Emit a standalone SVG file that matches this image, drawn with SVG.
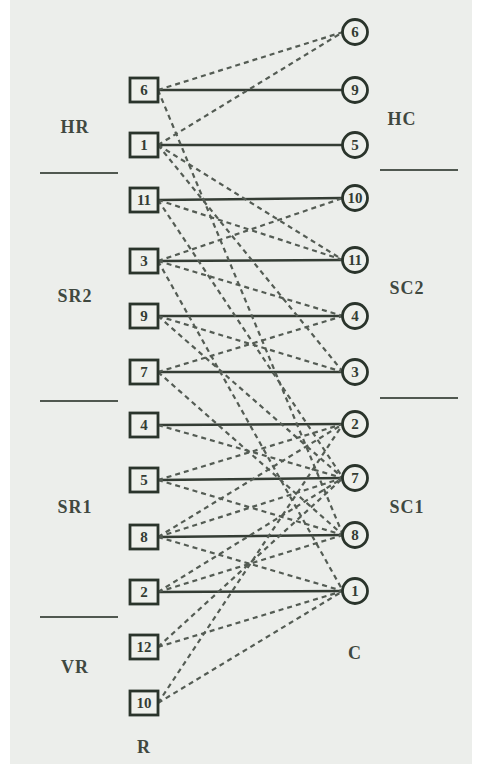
<svg xmlns="http://www.w3.org/2000/svg" width="483" height="764" viewBox="0 0 483 764">
<style>
.bg{fill:#eceeeb}
.box{fill:#eef0ec;stroke:#2a342b;stroke-width:2.8}
.cir{fill:#eef0ec;stroke:#2a342b;stroke-width:2.8}
.num{font-family:"Liberation Serif",serif;font-size:15px;font-weight:bold;fill:#333c33;text-anchor:middle;dominant-baseline:central}
.lab{font-family:"Liberation Serif",serif;font-size:18px;font-weight:bold;fill:#3f483f;text-anchor:middle;dominant-baseline:central;letter-spacing:1px}
.solid{stroke:#343c34;stroke-width:2.4;fill:none}
.dash{stroke:#545c54;stroke-width:2.2;stroke-dasharray:5 4;fill:none}
.sep{stroke:#505850;stroke-width:2.2}
</style>
<rect x="0" y="0" width="483" height="764" fill="#ffffff"/>
<rect class="bg" x="10" y="0" width="462" height="764"/>
<g id="separators">
<line class="sep" x1="40" y1="173" x2="118" y2="173"/>
<line class="sep" x1="40" y1="401" x2="118" y2="401"/>
<line class="sep" x1="40" y1="617" x2="118" y2="617"/>
<line class="sep" x1="380" y1="170" x2="458" y2="170"/>
<line class="sep" x1="380" y1="398" x2="458" y2="398"/>
</g>
<g id="labels">
<text class="lab" x="75" y="127">HR</text>
<text class="lab" x="402" y="119">HC</text>
<text class="lab" x="75" y="296">SR2</text>
<text class="lab" x="407" y="288">SC2</text>
<text class="lab" x="75" y="507">SR1</text>
<text class="lab" x="407" y="507">SC1</text>
<text class="lab" x="75" y="667">VR</text>
<text class="lab" x="355" y="653">C</text>
<text class="lab" x="144" y="747">R</text>
</g>
<g id="connectors">
<line class="solid" x1="158" y1="90" x2="343" y2="90"/>
<line class="solid" x1="158" y1="145" x2="343" y2="145"/>
<line class="solid" x1="158" y1="200" x2="343" y2="198"/>
<line class="solid" x1="158" y1="261" x2="343" y2="260"/>
<line class="solid" x1="158" y1="316" x2="343" y2="316"/>
<line class="solid" x1="158" y1="372" x2="343" y2="372"/>
<line class="solid" x1="158" y1="425" x2="343" y2="424"/>
<line class="solid" x1="158" y1="480" x2="343" y2="478"/>
<line class="solid" x1="158" y1="537" x2="343" y2="535"/>
<line class="solid" x1="158" y1="592" x2="343" y2="591"/>
<line class="dash" x1="158" y1="90" x2="343" y2="32"/>
<line class="dash" x1="158" y1="145" x2="343" y2="32"/>
<line class="dash" x1="158" y1="90" x2="343" y2="535"/>
<line class="dash" x1="158" y1="145" x2="343" y2="260"/>
<line class="dash" x1="158" y1="145" x2="343" y2="372"/>
<line class="dash" x1="158" y1="200" x2="343" y2="260"/>
<line class="dash" x1="158" y1="200" x2="343" y2="478"/>
<line class="dash" x1="158" y1="261" x2="343" y2="198"/>
<line class="dash" x1="158" y1="261" x2="343" y2="316"/>
<line class="dash" x1="158" y1="261" x2="343" y2="591"/>
<line class="dash" x1="158" y1="316" x2="343" y2="372"/>
<line class="dash" x1="158" y1="316" x2="343" y2="478"/>
<line class="dash" x1="158" y1="372" x2="343" y2="316"/>
<line class="dash" x1="158" y1="372" x2="343" y2="535"/>
<line class="dash" x1="158" y1="425" x2="343" y2="478"/>
<line class="dash" x1="158" y1="480" x2="343" y2="424"/>
<line class="dash" x1="158" y1="480" x2="343" y2="535"/>
<line class="dash" x1="158" y1="537" x2="343" y2="424"/>
<line class="dash" x1="158" y1="537" x2="343" y2="478"/>
<line class="dash" x1="158" y1="537" x2="343" y2="591"/>
<line class="dash" x1="158" y1="592" x2="343" y2="535"/>
<line class="dash" x1="158" y1="592" x2="343" y2="478"/>
<line class="dash" x1="158" y1="647" x2="343" y2="478"/>
<line class="dash" x1="158" y1="647" x2="343" y2="591"/>
<line class="dash" x1="158" y1="703" x2="343" y2="424"/>
<line class="dash" x1="158" y1="703" x2="343" y2="591"/>
</g>
<g id="r6"><rect class="box" x="130" y="78" width="28" height="24"/><text class="num" x="144" y="90">6</text></g>
<g id="r1"><rect class="box" x="130" y="133" width="28" height="24"/><text class="num" x="144" y="145">1</text></g>
<g id="r11"><rect class="box" x="130" y="188" width="28" height="24"/><text class="num" x="144" y="200">11</text></g>
<g id="r3"><rect class="box" x="130" y="249" width="28" height="24"/><text class="num" x="144" y="261">3</text></g>
<g id="r9"><rect class="box" x="130" y="304" width="28" height="24"/><text class="num" x="144" y="316">9</text></g>
<g id="r7"><rect class="box" x="130" y="360" width="28" height="24"/><text class="num" x="144" y="372">7</text></g>
<g id="r4"><rect class="box" x="130" y="413" width="28" height="24"/><text class="num" x="144" y="425">4</text></g>
<g id="r5"><rect class="box" x="130" y="468" width="28" height="24"/><text class="num" x="144" y="480">5</text></g>
<g id="r8"><rect class="box" x="130" y="525" width="28" height="24"/><text class="num" x="144" y="537">8</text></g>
<g id="r2"><rect class="box" x="130" y="580" width="28" height="24"/><text class="num" x="144" y="592">2</text></g>
<g id="r12"><rect class="box" x="130" y="635" width="28" height="24"/><text class="num" x="144" y="647">12</text></g>
<g id="r10"><rect class="box" x="130" y="691" width="28" height="24"/><text class="num" x="144" y="703">10</text></g>
<g id="c6"><circle class="cir" cx="355" cy="32" r="12.5"/><text class="num" x="355" y="32">6</text></g>
<g id="c9"><circle class="cir" cx="355" cy="90" r="12.5"/><text class="num" x="355" y="90">9</text></g>
<g id="c5"><circle class="cir" cx="355" cy="145" r="12.5"/><text class="num" x="355" y="145">5</text></g>
<g id="c10"><circle class="cir" cx="355" cy="198" r="12.5"/><text class="num" x="355" y="198">10</text></g>
<g id="c11"><circle class="cir" cx="355" cy="260" r="12.5"/><text class="num" x="355" y="260">11</text></g>
<g id="c4"><circle class="cir" cx="355" cy="316" r="12.5"/><text class="num" x="355" y="316">4</text></g>
<g id="c3"><circle class="cir" cx="355" cy="372" r="12.5"/><text class="num" x="355" y="372">3</text></g>
<g id="c2"><circle class="cir" cx="355" cy="424" r="12.5"/><text class="num" x="355" y="424">2</text></g>
<g id="c7"><circle class="cir" cx="355" cy="478" r="12.5"/><text class="num" x="355" y="478">7</text></g>
<g id="c8"><circle class="cir" cx="355" cy="535" r="12.5"/><text class="num" x="355" y="535">8</text></g>
<g id="c1"><circle class="cir" cx="355" cy="591" r="12.5"/><text class="num" x="355" y="591">1</text></g>
</svg>
